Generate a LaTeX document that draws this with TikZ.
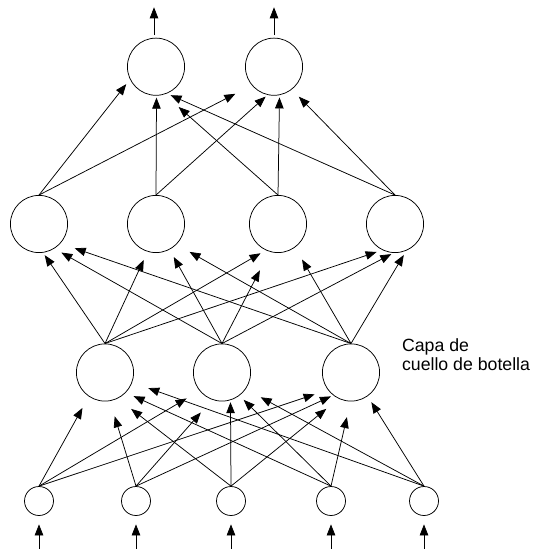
\documentclass[tikz,border=0pt]{standalone}
\usepackage{fontspec}
\setmainfont{Liberation Sans}
\usetikzlibrary{arrows.meta}

\begin{document}
\begin{tikzpicture}[x=1pt, y=-1pt, ->, >={Triangle[length=11pt,width=8.5pt]},
      line width=0.75pt,
      every node/.append style={inner sep=0pt}]
    \tikzstyle{neuron} = [circle,draw,minimum size=57.2pt]
    \tikzstyle{unit} = [circle,draw,minimum size=29pt]
    \useasboundingbox (0,0) rectangle (533,549);

    \node [neuron] (y1) at (156,66.7) {};
    \node [neuron] (y2) at (274,66.7) {};

    \node [neuron] (h1) at (39,224) {};
    \node [neuron] (h2) at (156,224) {};
    \node [neuron] (h3) at (278,224) {};
    \node [neuron] (h4) at (395,224) {};

    \node [neuron] (b1) at (105,372.5) {};
    \node [neuron] (b2) at (222,372.5) {};
    \node [neuron] (b3) at (351,372.5) {};

    \node [unit] (x1) at (39,501) {};
    \node [unit] (x2) at (136,501) {};
    \node [unit] (x3) at (231,501) {};
    \node [unit] (x4) at (331,501) {};
    \node [unit] (x5) at (424,501) {};

    \node [anchor=base west,align=left,font=\fontsize{17.7}{19.3}\selectfont] (bottleneck)
      at (401.7,370.7) {Capa de\\cuello de botella};

    \coordinate (out1) at (154,7.3);
    \coordinate (out2) at (274,7.3);
    \coordinate (in1) at (39,549);
    \coordinate (in2) at (136,549);
    \coordinate (in3) at (231,549);
    \coordinate (in4) at (331,549);
    \coordinate (in5) at (424,549);

    \draw[shorten <=2.5pt] (y1.north -| out1) -- (out1);
    \draw[shorten <=2.5pt] (y2.north) -- (out2);
    \draw[shorten >=8.5pt] (in1) -- (x1.south);
    \draw[shorten >=8.5pt] (in2) -- (x2.south);
    \draw[shorten >=8.5pt] (in3) -- (x3.south);
    \draw[shorten >=8.5pt] (in4) -- (x4.south);
    \draw[shorten >=8.5pt] (in5) -- (x5.south);

    \draw[shorten >=13pt] (x1.north) to (b1.236);
    \draw[shorten >=16pt] (x2.north) to (b1.280);
    \draw[shorten >=17pt] (x3.north) to (b1.296);
    \draw[shorten >=8.5pt] (x4.north) to (b1.316);
    \draw[shorten >=17pt] (x5.north) to (b1.340);
    \draw[shorten >=15pt] (x1.north) to (b2.219);
    \draw[shorten >=17pt] (x2.north) to (b2.250);
    \draw[shorten >=2pt] (x3.north) to (b2.287);
    \draw[shorten >=6pt] (x4.north) to (b2.307);
    \draw[shorten >=17pt] (x5.north) to (b2.325);
    \draw[shorten >=14pt] (x1.north) to (b3.217);
    \draw[shorten >=2.5pt] (x2.north) to (b3.232);
    \draw[shorten >=16pt] (x3.north) to (b3.245);
    \draw[shorten >=16pt] (x4.north) to (b3.269);
    \draw[shorten >=7pt] (x5.north) to (b3.305);

    \draw[shorten >=3pt] (b1.north) to (h1.278);
    \draw[shorten >=8pt] (b2.north) to (h1.302);
    \draw[shorten >=15pt] (b3.north) to (h1.318);
    \draw[shorten >=9pt] (b1.north) to (h2.253);
    \draw[shorten >=8.5pt] (b2.north) to (h2.298);
    \draw[shorten >=15pt] (b3.north) to (h2.315);
    \draw[shorten >=6pt] (b1.north) to (h3.245);
    \draw[shorten >=21pt] (b2.north) to (h3.253);
    \draw[shorten >=14pt] (b3.north) to (h3.306);
    \draw[shorten >=6pt] (b1.north) to (h4.244);
    \draw[shorten >=2.5pt] (b2.north) to (h4.267);
    \draw[shorten >=5pt] (b3.north) to (h4.293);

    \draw[shorten >=6pt] (h1.north) to (y1.206);
    \draw[shorten >=2pt] (h2.north) to (y1.271);
    \draw[shorten >=19pt] (h3.north) to (y1.287);
    \draw[shorten >=4pt] (h4.north) to (y1.292);
    \draw[shorten >=18.5pt] (h1.north) to (y2.220);
    \draw[shorten >=2.5pt] (h2.north) to (y2.257);
    \draw[shorten >=2.3pt] (h3.north) to (y2.281);
    \draw[shorten >=10pt] (h4.north) to (y2.308);
  \end{tikzpicture}
\end{document}
